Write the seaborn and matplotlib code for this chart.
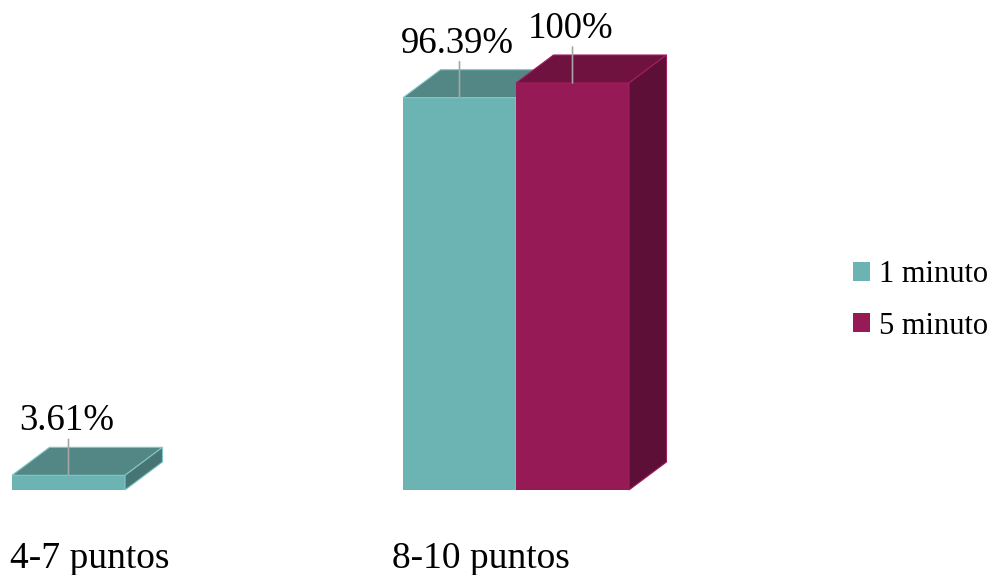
import numpy as np
import pandas as pd
import matplotlib
matplotlib.use("Agg")
import matplotlib.pyplot as plt
import seaborn as sns
from matplotlib.patches import Polygon, Patch
from matplotlib.transforms import IdentityTransform, ScaledTranslation

# ---- data ----
categories = ["4-7 puntos", "8-10 puntos"]
series = ["1 minuto", "5 minuto"]
values_1min = [3.61, 96.39]
values_5min = [0, 100]
labels_1min = ["3.61%", "96.39%"]
labels_5min = ["", "100%"]

# ---- styles ----
front_colors = ["#6BB4B3", "#951A55"]
top_colors = ["#528785", "#701240"]
side_colors = ["#467574", "#5E0F37"]
edge_colors = ["#80C8C7", "#A11F5E"]

df = pd.DataFrame({
    "cat": categories * 2,
    "series": [series[0]] * len(categories) + [series[1]] * len(categories),
    "value": values_1min + values_5min,
})

sns.set_theme(style="white")
plt.rcParams["font.family"] = ["Liberation Serif", "DejaVu Serif"]
plt.rcParams["text.color"] = "black"
plt.rcParams["xtick.color"] = "black"

W, H = 995, 575
fig = plt.figure(figsize=(W / 100, H / 100), dpi=100)
ax = fig.add_axes([0, 85 / H, 800 / W, 490 / H])

sns.barplot(data=df, x="cat", y="value", hue="series", order=categories,
            hue_order=series, palette=front_colors, width=0.578, dodge=True,
            saturation=1, linewidth=0, errorbar=None, legend=False, ax=ax)

ax.set_xlim(-125 / 391, (800 - 125) / 391)
ax.set_ylim(0, 490 / 4.07)
ax.set_yticks([])
ax.set_xlabel("")
ax.set_ylabel("")
sns.despine(ax=ax, left=True, bottom=True)
ax.tick_params(axis="x", length=0, pad=37, labelsize=27, labelcolor="black")
for lab in ax.get_xticklabels():
    lab.set_transform(lab.get_transform() + ScaledTranslation(-35 / 100, 0, fig.dpi_scale_trans))

dx, dy = 37.5, 28.0
all_labels = [labels_1min, labels_5min]
all_values = [values_1min, values_5min]
px = 0.72  # points per pixel

for i, cont in enumerate(ax.containers):
    for j, bar in enumerate(cont):
        bar.set_zorder(2 + i)
        if all_values[i][j] <= 0:
            bar.set_visible(False)
            continue
        x0d, y0d = ax.transData.transform((bar.get_x(), 0))
        x1d, y1d = ax.transData.transform((bar.get_x() + bar.get_width(), bar.get_height()))
        top = Polygon([(x0d, y1d), (x1d, y1d), (x1d + dx, y1d + dy), (x0d + dx, y1d + dy)],
                      closed=True, facecolor=top_colors[i], edgecolor=edge_colors[i],
                      linewidth=0.8, transform=IdentityTransform(), zorder=2 + i, clip_on=False)
        side = Polygon([(x1d, y0d), (x1d + dx, y0d + dy), (x1d + dx, y1d + dy), (x1d, y1d)],
                       closed=True, facecolor=side_colors[i], edgecolor=edge_colors[i],
                       linewidth=0.8, transform=IdentityTransform(), zorder=2 + i, clip_on=False)
        ax.add_patch(top)
        ax.add_patch(side)
        cx = bar.get_x() + bar.get_width() / 2
        h = bar.get_height()
        ax.annotate("", xy=(cx, h), xytext=(0, 36 * px), textcoords="offset points",
                    arrowprops=dict(arrowstyle="-", color="#A6A6A6", lw=1.2,
                                    shrinkA=0, shrinkB=0), zorder=6)
        ax.annotate(all_labels[i][j], xy=(cx, h), xytext=(-2 * px, 45 * px),
                    textcoords="offset points", ha="center", va="baseline",
                    fontsize=26.5, color="black", zorder=7)

handles = [Patch(facecolor=front_colors[k], edgecolor="none", label=series[k]) for k in range(2)]
leg = fig.legend(handles=handles, loc="center left", bbox_to_anchor=(853 / W, 1 - 300.5 / H),
                 frameon=False, fontsize=22, handlelength=0.56, handleheight=0.56,
                 handletextpad=0.3, labelspacing=0.72, borderpad=0, borderaxespad=0)
for t in leg.get_texts():
    t.set_color("black")

fig.savefig("out.png", dpi=100)
